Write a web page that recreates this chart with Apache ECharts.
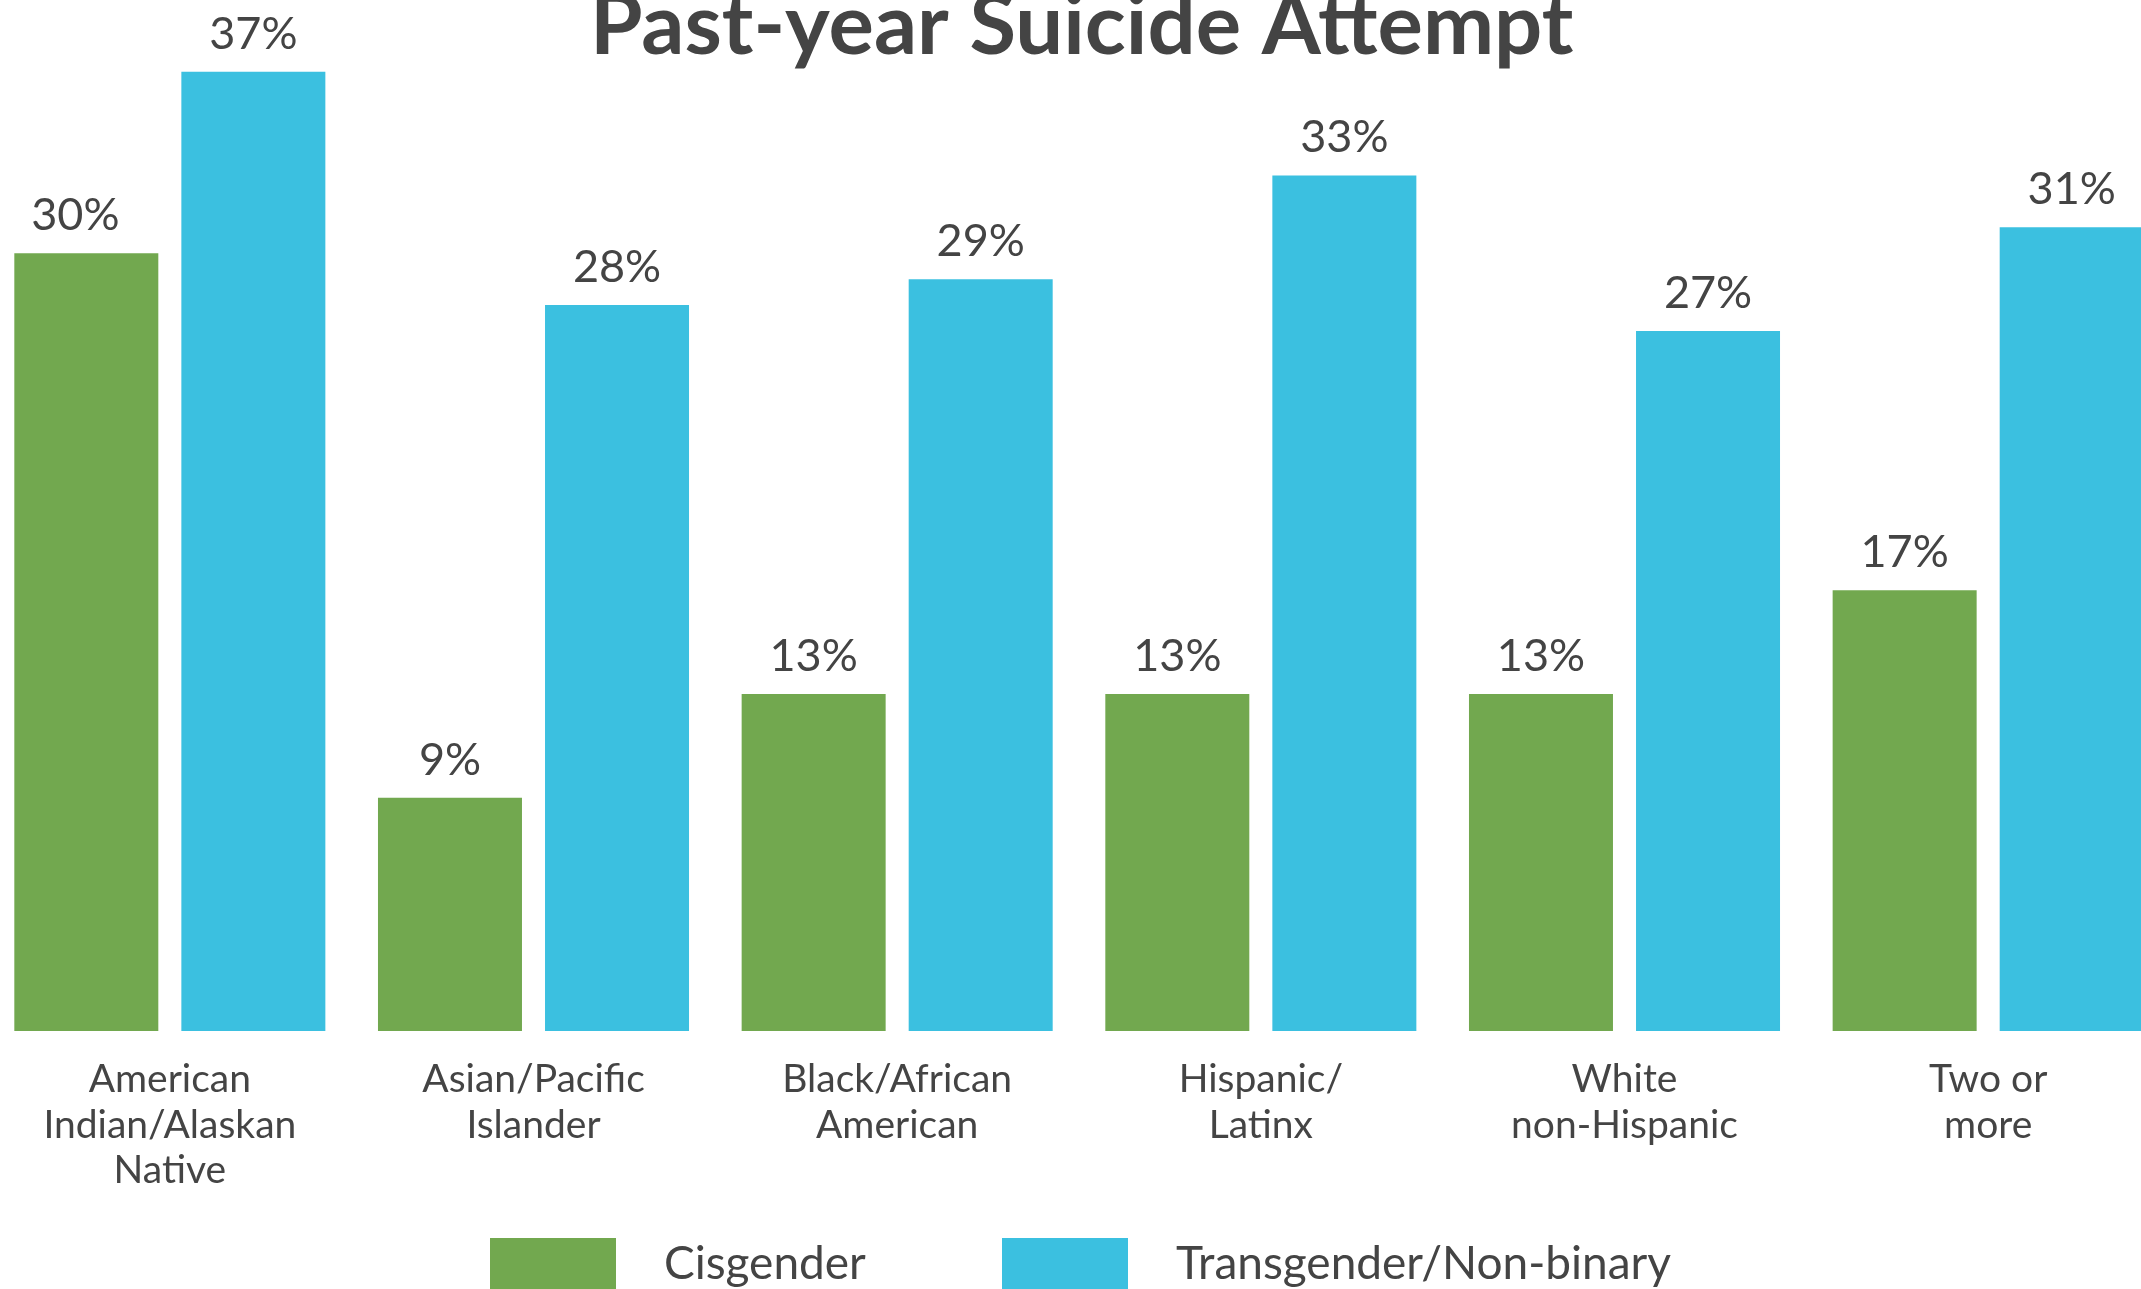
<!DOCTYPE html>
<html>
<head>
<meta charset="utf-8">
<script src="https://cdn.jsdelivr.net/npm/echarts@6/dist/echarts.min.js"></script>
<style>
html,body{margin:0;padding:0;background:#fff;}
#c{width:2141px;height:1289px;}
</style>
</head>
<body>
<div id="c"></div>
<script>
const titleText = 'Past-year Suicide Attempt';
const categories = ['American\nIndian/Alaskan\nNative', 'Asian/Pacific\nIslander', 'Black/African\nAmerican', 'Hispanic/\nLatinx', 'White\nnon-Hispanic', 'Two or\nmore'];
const seriesNames = ['Cisgender', 'Transgender/Non-binary'];
const cisgender = [30, 9, 13, 13, 13, 17];
const transgender = [37, 28, 29, 33, 27, 31];

const GREEN = '#72a84f';
const BLUE = '#3bc0e0';
const TXT = '#444444';
const FONT = 'Lato';

const chart = echarts.init(document.getElementById('c'), null, {renderer: 'canvas'});

function labelCfg() {
  return {
    show: true, position: 'top', distance: 15,
    formatter: p => p.value + '%',
    fontFamily: FONT, fontSize: 45, color: TXT
  };
}

const cisData = cisgender.map((v, i) => i === 0 ? {value: v, label: {offset: [-11, 0]}} : v);

chart.setOption({
  animation: false,
  backgroundColor: '#ffffff',
  title: {
    text: titleText, left: 585, top: -21, padding: 5,
    textStyle: {fontFamily: FONT, fontWeight: 'bold', fontSize: 85, color: TXT, lineHeight: 85}
  },
  legend: [
    {
      data: [seriesNames[0]], left: 485, top: 1233, itemWidth: 126, itemHeight: 52,
      icon: 'rect', selectedMode: false,
      textStyle: {fontFamily: FONT, fontSize: 46, color: TXT, padding: [0, 0, 0, 43]}
    },
    {
      data: [seriesNames[1]], left: 997, top: 1233, itemWidth: 126, itemHeight: 52,
      icon: 'rect', selectedMode: false,
      textStyle: {fontFamily: FONT, fontSize: 46, color: TXT, padding: [0, 0, 0, 43]}
    }
  ],
  grid: {left: -12, right: -29, top: -6, bottom: 258, containLabel: false, outerBoundsMode: 'none'},
  xAxis: {
    type: 'category', data: categories,
    axisLine: {show: false}, axisTick: {show: false},
    axisLabel: {fontFamily: FONT, fontSize: 39, lineHeight: 45.5, color: TXT, margin: 26, interval: 0}
  },
  yAxis: {
    type: 'value', min: 0, max: 40, show: false,
    splitLine: {show: false}
  },
  series: [
    {name: seriesNames[0], type: 'bar', data: cisData, barWidth: 144, barGap: '16%',
     itemStyle: {color: GREEN}, label: labelCfg()},
    {name: seriesNames[1], type: 'bar', data: transgender, barWidth: 144, barGap: '16%',
     itemStyle: {color: BLUE}, label: labelCfg()}
  ]
});
</script>
</body>
</html>
